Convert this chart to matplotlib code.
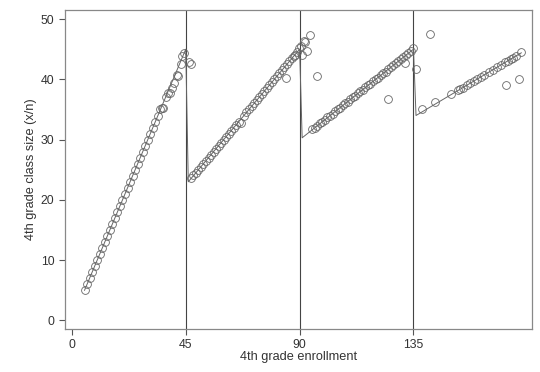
import matplotlib
matplotlib.use("Agg")
import matplotlib.pyplot as plt

plt.rcParams['font.family'] = ['Liberation Sans', 'DejaVu Sans']

# enrollment / class size points
seg1_x = [5, 6, 7, 8, 9, 10, 11, 12, 13, 14, 15, 16, 17, 18, 19, 20, 21, 22, 23, 24,
          25, 26, 27, 28, 29, 30, 31, 32, 33, 34, 35, 35.5, 36, 37, 38, 38.7, 39.5,
          40.4, 41.5, 42.1, 43.1, 43.7, 44.2, 46.4, 47.1]
seg1_y = [5, 6, 7, 8, 9, 10, 11, 12, 13, 14, 15, 16, 17, 18, 19, 20, 21, 22, 23, 24,
          25, 26, 27, 28, 29, 30, 31, 32, 33, 34, 35, 35.3, 35.2, 37, 37.8, 37.8, 38.6,
          39.4, 40.8, 40.6, 42.5, 43.8, 44.3, 42.8, 42.5]

seg2_x = [47, 48, 49, 50, 51, 52, 53, 54, 55, 56, 57, 58, 59, 60, 61, 62, 63, 64, 65,
          66, 67, 68, 69, 70, 71, 72, 73, 74, 75, 76, 77, 78, 79, 80, 81, 82, 83, 84,
          84.5, 85, 86, 87, 87.7, 88, 89, 89.7, 90.4, 91, 91.6, 92, 93, 94, 96.7]
seg2_y = [23.6, 24.1, 24.5, 25, 25.5, 26, 26.5, 27, 27.5, 28, 28.5, 29, 29.5, 30, 30.5,
          31, 31.5, 32, 32.5, 33, 32.8, 34, 34.5, 35, 35.5, 36, 36.5, 37, 37.5, 38, 38.5,
          39, 39.5, 40, 40.5, 41, 41.5, 42, 40.3, 42.5, 43, 43.5, 43.8, 44, 44.5, 45.2,
          45.5, 44.1, 46.3, 46.2, 44.7, 47.3, 40.5]

seg3_x = [95, 96, 97, 98, 99, 100, 101, 102, 103, 104, 105, 106, 107, 108, 109, 110,
          111, 112, 113, 114, 115, 116, 117, 118, 119, 120, 121, 122, 123, 124, 124.8,
          125, 126, 127, 128, 129, 130, 131, 131.8, 132, 133, 134, 134.7, 136]
seg3_y = [31.7, 32, 32.3, 32.7, 33, 33.3, 33.7, 34, 34.3, 34.7, 35, 35.3, 35.7, 36,
          36.3, 36.7, 37, 37.3, 37.7, 38, 38.3, 38.7, 39, 39.3, 39.7, 40, 40.3, 40.7, 41,
          41.3, 36.7, 41.7, 42, 42.3, 42.7, 43, 43.3, 43.7, 42.7, 44, 44.3, 44.7, 45.2, 41.7]

seg4_x = [138.4, 141.7, 143.7, 149.9, 152.5, 153.5, 154.5, 156, 157.5, 159, 160, 161.5,
          163, 165, 166.5, 168, 169.5, 171, 171.7, 172.5, 173.5, 174.5, 175.5, 176.7, 177.6]
seg4_y = [35, 47.6, 36.3, 37.6, 38.2, 38.4, 38.6, 39, 39.4, 39.8, 40, 40.4, 40.8, 41.2,
          41.6, 42, 42.4, 42.8, 39, 43.1, 43.4, 43.6, 43.9, 40, 44.5]

# Maimonides rule line, vertices
rule_x = [5, 45, 46, 90, 91, 135, 136, 177.6]
rule_y = [5, 45, 23, 45, 30.3, 45, 34, 44.4]

cutoffs = [45, 90, 135]
xticks = [0, 45, 90, 135]
yticks = [0, 10, 20, 30, 40, 50]

fig = plt.figure(figsize=(5.4, 3.72), dpi=100)
ax = fig.add_axes([0.12, 0.116, 0.865, 0.857])

for c in cutoffs:
    ax.axvline(c, color="#444444", lw=0.8, zorder=1)

ax.plot(rule_x, rule_y, color="#666666", lw=0.7, zorder=2)

xs = seg1_x + seg2_x + seg3_x + seg4_x
ys = seg1_y + seg2_y + seg3_y + seg4_y
ax.plot(xs, ys, ls="none", marker="o", ms=5.6, mfc="none", mec="#666666", mew=0.6, zorder=3)

ax.set_xlim(-2.8, 181.8)
ax.set_ylim(-1.4, 51.5)
ax.set_xticks(xticks)
ax.set_yticks(yticks)
for s in ax.spines.values():
    s.set_color("#888888")
    s.set_linewidth(0.9)
ax.tick_params(direction="out", length=4, width=0.8, color="#555555",
               labelsize=8.8, labelcolor="#333333")
ax.set_xlabel("4th grade enrollment", fontsize=9.2, color="#333333", labelpad=0)
ax.set_ylabel("4th grade class size (x/n)", fontsize=9.2, color="#333333", labelpad=3)

fig.savefig("out.png", dpi=100)
